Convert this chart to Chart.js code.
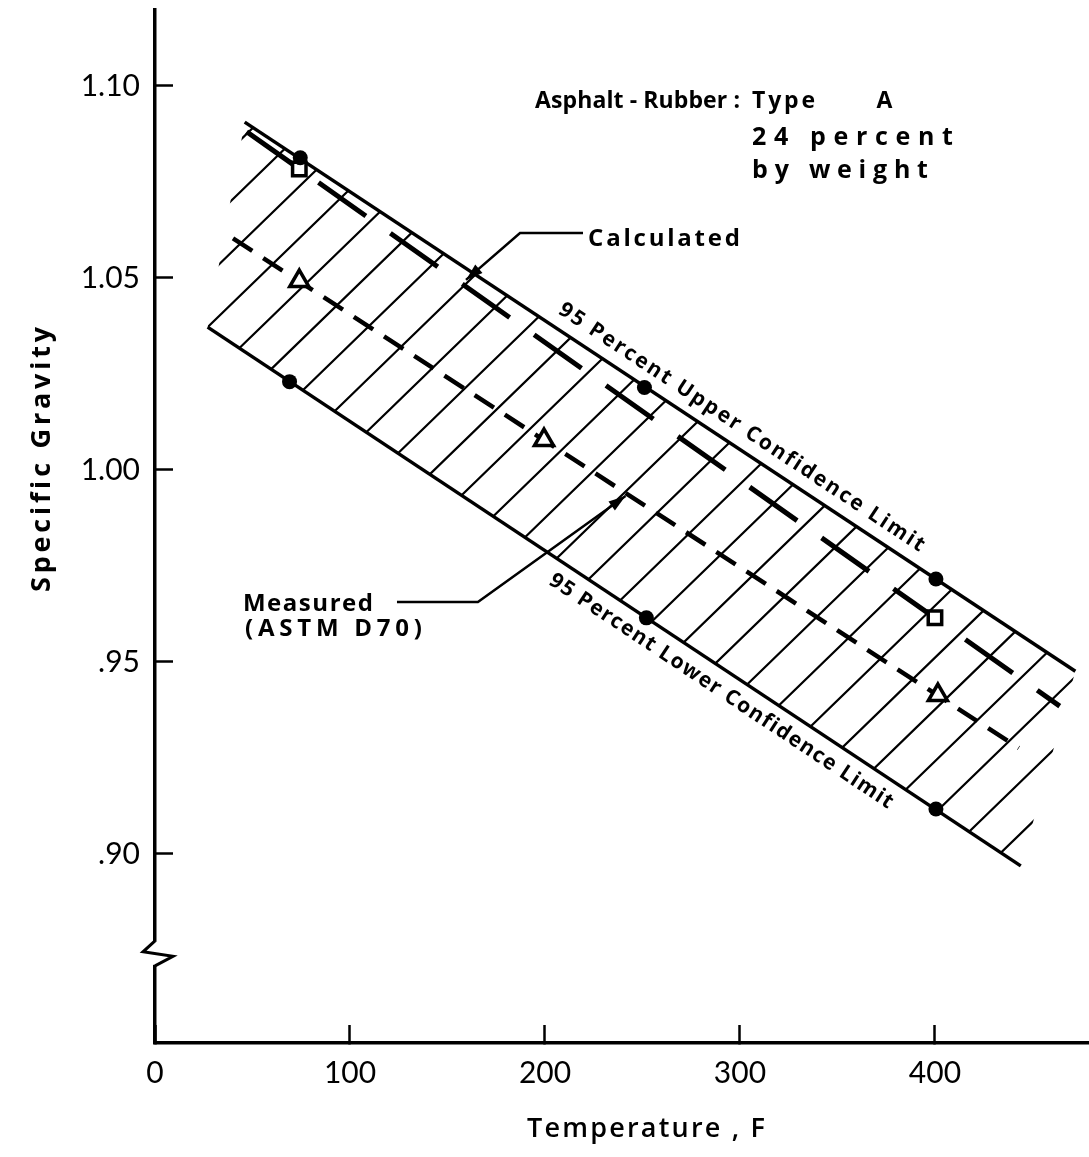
<!DOCTYPE html>
<html lang="en">
<head>
<meta charset="UTF-8">
<title>Specific Gravity vs Temperature</title>
<script src="https://cdn.jsdelivr.net/npm/chart.js"></script>
<style>
  html, body { margin: 0; padding: 0; background: #fff; overflow: hidden; }
  canvas { display: block; }
</style>
</head>
<body>
<canvas id="sgChart" width="1089" height="1157"></canvas>
<script>
// values: temperature (F) vs specific gravity
const upperX = [46, 472];            // 95 percent upper confidence limit
const upperY = [1.0906, 0.9476];
const lowerX = [27, 444];            // 95 percent lower confidence limit
const lowerY = [1.0372, 0.8969];
const calcX = [47, 464];             // calculated
const calcY = [1.0881, 0.9385];
const measX = [40, 443];             // measured (ASTM D70)
const measY = [1.0603, 0.9276];

const upperDotX = [74.5, 251, 400.5];
const upperDotY = [1.0813, 1.0215, 0.9716];
const lowerDotX = [69, 252, 400.5];
const lowerDotY = [1.0230, 0.9615, 0.9117];
const squareX = [74, 400];
const squareY = [1.0784, 0.9615];
const triangleX = [74, 199.5, 401.5];
const triangleY = [1.0492, 1.0078, 0.9414];

const xTicks = [0, 100, 200, 300, 400];
const yTicks = [0.90, 0.95, 1.00, 1.05, 1.10];
const yTickLabels = ['.90', '.95', '1.00', '1.05', '1.10'];

const TICK_FONT = 'Lato, "Open Sans", sans-serif';
const FONT = '"Open Sans", Lato, sans-serif';

function pts(xs, ys) {
    return xs.map((x, i) => ({x: x, y: ys[i]}));
}

// draw a string so that it spans `width` px starting at `left`
function spread(ctx, str, left, y, width) {
    const chars = Array.from(str);
    const w = chars.map(c => ctx.measureText(c).width);
    const natural = w.reduce((a, b) => a + b, 0);
    const gap = chars.length > 1 ? (width - natural) / (chars.length - 1) : 0;
    let cx = left;
    chars.forEach((c, i) => { ctx.fillText(c, cx, y); cx += w[i] + gap; });
}

function label(ctx, str, left, centerY, width, size, weight) {
    ctx.font = `${weight} ${size}px ${FONT}`;
    ctx.textAlign = 'left';
    ctx.textBaseline = 'alphabetic';
    ctx.fillStyle = '#000';
    spread(ctx, str, left, centerY + size * 0.36, width);
}

function arrowHead(ctx, from, to, len, half) {
    const a = Math.atan2(to.y - from.y, to.x - from.x);
    ctx.beginPath();
    ctx.moveTo(to.x, to.y);
    ctx.lineTo(to.x - len * Math.cos(a) + half * Math.sin(a), to.y - len * Math.sin(a) - half * Math.cos(a));
    ctx.lineTo(to.x - len * Math.cos(a) - half * Math.sin(a), to.y - len * Math.sin(a) + half * Math.cos(a));
    ctx.closePath();
    ctx.fill();
}

function metaOf(chart, name) {
    const i = chart.data.datasets.findIndex(d => d.label === name);
    return chart.getDatasetMeta(i).data;
}

const annotations = {
    id: 'annotations',
    // hatching between the two confidence limits
    beforeDatasetsDraw(chart) {
        const {ctx, chartArea} = chart;
        const up = metaOf(chart, 'upper');
        const lo = metaOf(chart, 'lower');
        const a = up[0], b = up[up.length - 1], c = lo[lo.length - 1], d = lo[0];
        ctx.save();
        ctx.beginPath();
        ctx.moveTo(a.x, a.y);
        ctx.lineTo(b.x, b.y);
        ctx.lineTo(c.x, c.y);
        ctx.lineTo(d.x, d.y);
        ctx.closePath();
        ctx.clip();
        const k = 0.97, step = 51.8;
        const c0 = d.y + k * d.x;
        const cMin = chartArea.top + k * chartArea.left;
        const cMax = chartArea.bottom + k * chartArea.right;
        ctx.strokeStyle = '#000';
        ctx.lineWidth = 2.2;
        ctx.beginPath();
        for (let cc = c0 - Math.ceil((c0 - cMin) / step) * step; cc <= cMax; cc += step) {
            ctx.moveTo(chartArea.left, cc - k * chartArea.left);
            ctx.lineTo(chartArea.right, cc - k * chartArea.right);
        }
        ctx.stroke();
        ctx.restore();
    },
    afterDatasetsDraw(chart) {
        const {ctx} = chart;
        const xs = chart.scales.x, ys = chart.scales.y;
        const P = (x, y) => ({x: xs.getPixelForValue(x), y: ys.getPixelForValue(y)});
        const W = (x1, x2) => xs.getPixelForValue(x2) - xs.getPixelForValue(x1);
        ctx.save();
        ctx.strokeStyle = '#000';
        ctx.fillStyle = '#000';
        ctx.lineWidth = 2.5;

        // leader to the calculated line
        let l = [P(219.5, 1.0617), P(187.2, 1.0617), P(159.5, 1.0495)];
        ctx.beginPath();
        ctx.moveTo(l[0].x, l[0].y); ctx.lineTo(l[1].x, l[1].y); ctx.lineTo(l[2].x, l[2].y);
        ctx.stroke();
        arrowHead(ctx, l[1], l[2], 17, 5.5);

        // leader to the measured line
        l = [P(124.1, 0.9656), P(165.6, 0.9656), P(241.3, 0.9932)];
        ctx.beginPath();
        ctx.moveTo(l[0].x, l[0].y); ctx.lineTo(l[1].x, l[1].y); ctx.lineTo(l[2].x, l[2].y);
        ctx.stroke();
        arrowHead(ctx, l[1], l[2], 17, 5.5);

        let p = P(194.9, 1.0964);
        label(ctx, 'Asphalt - Rubber :', p.x, p.y, W(194.9, 300), 23, 'bold');
        p = P(306.2, 1.0964);
        label(ctx, 'Type', p.x, p.y, W(306.2, 338.5), 23, 'bold');
        p = P(370, 1.0964);
        label(ctx, 'A', p.x, p.y, W(370, 378.5), 23, 'bold');
        p = P(306.2, 1.0869);
        label(ctx, '24 percent', p.x, p.y, W(306.2, 409.2), 25, 'bold');
        p = P(306.2, 1.0783);
        label(ctx, 'by weight', p.x, p.y, W(306.2, 396.4), 25, 'bold');
        p = P(222.1, 1.0607);
        label(ctx, 'Calculated', p.x, p.y, W(222.1, 300), 24, 'bold');
        p = P(45.1, 0.9654);
        label(ctx, 'Measured', p.x, p.y, W(45.1, 111.8), 24, 'bold');
        p = P(46.2, 0.9591);
        label(ctx, '(ASTM D70)', p.x, p.y, W(46.2, 136.9), 24, 'bold');

        // labels running along the confidence limits
        const along = (name, xVal, dy, str, width) => {
            const line = metaOf(chart, name);
            const a = line[0], b = line[line.length - 1];
            const ang = Math.atan2(b.y - a.y, b.x - a.x);
            const cx = xs.getPixelForValue(xVal);
            const cy = a.y + (cx - a.x) * Math.tan(ang) + dy;
            ctx.save();
            ctx.translate(cx, cy);
            ctx.rotate(ang);
            label(ctx, str, -width / 2, 0, width, 21, 'bold');
            ctx.restore();
        };
        along('upper', 301.3, -25, '95 Percent Upper Confidence Limit', 434);
        along('lower', 290.8, 22, '95 Percent Lower Confidence Limit', 408);

        // axis titles
        ctx.save();
        ctx.translate(40, 460);
        ctx.rotate(-Math.PI / 2);
        label(ctx, 'Specific Gravity', -132, 0, 265, 27, 'bold');
        ctx.restore();
        label(ctx, 'Temperature , F', 527, 1127, 238, 27, '600');
        ctx.restore();
    },
    // break mark on the y axis
    afterDraw(chart) {
        const {ctx} = chart;
        const ax = chart.chartArea.left;
        const by = chart.scales.y.getPixelForValue(0.874);
        ctx.save();
        ctx.fillStyle = '#fff';
        ctx.fillRect(ax - 4, by - 12, 8, 23);
        ctx.strokeStyle = '#000';
        ctx.lineWidth = 3;
        ctx.beginPath();
        ctx.moveTo(ax, by - 13);
        ctx.lineTo(ax - 12, by - 2);
        ctx.lineTo(ax + 18, by + 2.5);
        ctx.lineTo(ax, by + 12);
        ctx.stroke();
        ctx.restore();
    }
};

const lineSet = (name, xs, ys, width, dash) => ({
    label: name,
    data: pts(xs, ys),
    showLine: true,
    borderColor: '#000',
    borderWidth: width,
    borderDash: dash,
    borderCapStyle: 'butt',
    pointRadius: 0,
    fill: false,
    order: 3
});

new Chart(document.getElementById('sgChart'), {
    type: 'scatter',
    data: {
        datasets: [
            {label: 'upperDots', data: pts(upperDotX, upperDotY), pointStyle: 'circle', pointRadius: 7.5,
                pointBackgroundColor: '#000', pointBorderWidth: 0, order: 0},
            {label: 'lowerDots', data: pts(lowerDotX, lowerDotY), pointStyle: 'circle', pointRadius: 7.5,
                pointBackgroundColor: '#000', pointBorderWidth: 0, order: 0},
            {label: 'squares', data: pts(squareX, squareY), pointStyle: 'rect', pointRadius: 9.5,
                pointBackgroundColor: '#fff', pointBorderColor: '#000', pointBorderWidth: 3.5, order: 1},
            {label: 'triangles', data: pts(triangleX, triangleY), pointStyle: 'triangle', pointRadius: 11,
                pointBackgroundColor: '#fff', pointBorderColor: '#000', pointBorderWidth: 3.5, order: 1},
            lineSet('upper', upperX, upperY, 3.5, []),
            lineSet('lower', lowerX, lowerY, 3.5, []),
            lineSet('calculated', calcX, calcY, 5, [58, 30]),
            lineSet('measured', measX, measY, 4.5, [23, 13])
        ]
    },
    options: {
        responsive: false,
        animation: false,
        events: [],
        layout: {autoPadding: false, padding: {top: 10, right: 0, bottom: 0, left: 0}},
        plugins: {legend: {display: false}, tooltip: {enabled: false}},
        scales: {
            x: {
                type: 'linear', min: 0, max: 479,
                afterBuildTicks: s => { s.ticks = xTicks.map(v => ({value: v})); },
                afterFit: s => { s.height = 114; s.paddingLeft = 0; s.paddingRight = 0; },
                grid: {drawOnChartArea: false, drawTicks: true, tickLength: -18, tickWidth: 2.5, tickColor: '#000'},
                border: {display: true, color: '#000', width: 3.5},
                ticks: {padding: 33, color: '#000', maxRotation: 0, autoSkip: false,
                    font: {family: TICK_FONT, size: 30, lineHeight: 1},
                    callback: v => String(v)}
            },
            y: {
                type: 'linear', min: 0.85078, max: 1.11979,
                afterBuildTicks: s => { s.ticks = yTicks.map(v => ({value: v})); },
                afterFit: s => { s.width = 155; s.paddingTop = 0; s.paddingBottom = 0; },
                grid: {drawOnChartArea: false, drawTicks: true, tickLength: -18, tickWidth: 2.5, tickColor: '#000'},
                border: {display: true, color: '#000', width: 3.5},
                ticks: {padding: 33, color: '#000', autoSkip: false,
                    font: {family: TICK_FONT, size: 30, lineHeight: 1},
                    callback: (v, i) => yTickLabels[i]}
            }
        }
    },
    plugins: [annotations]
});
</script>
</body>
</html>
